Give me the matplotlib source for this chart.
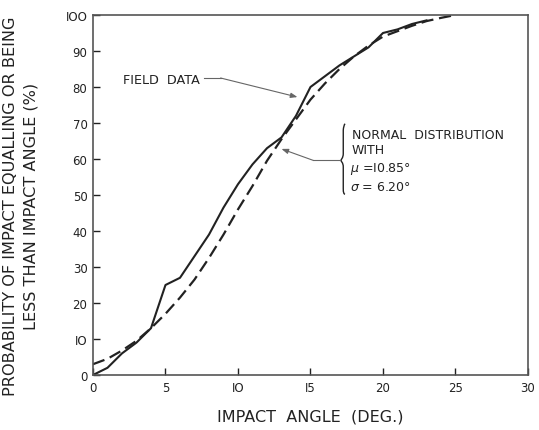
import matplotlib
matplotlib.use("Agg")
import matplotlib.pyplot as plt
from matplotlib.path import Path
from matplotlib.patches import PathPatch

# Field data (solid line)
field_x = [0, 1, 2, 3, 4, 5, 6, 7, 8, 9, 10, 11, 12, 13, 14, 15, 16, 17, 18, 19, 20, 21, 22, 23]
field_y = [0, 2, 6, 9, 13, 25, 27, 33, 39, 46.5, 53, 58.5, 63, 66, 72, 80, 83, 86, 88.5, 91, 95, 96, 97.5, 98.5]

# Normal distribution (dashed line)
norm_x = [0, 1, 2, 3, 4, 5, 6, 7, 8, 9, 10, 11, 12, 13, 14, 15, 16, 17, 18, 19, 20, 21, 22, 23, 24, 25]
norm_y = [3, 4.5, 6.8, 9.5, 13, 17, 21.5, 26.5, 32.5, 39, 46, 52.5, 59.5, 65.5, 71, 76.5, 81, 85, 88.5, 91.5, 94, 95.5, 97, 98.3, 99.2, 100]

x_ticks = [0, 5, 10, 15, 20, 25, 30]
x_tick_labels = ["0", "5", "IO", "I5", "20", "25", "30"]
y_ticks = [0, 10, 20, 30, 40, 50, 60, 70, 80, 90, 100]
y_tick_labels = ["0", "IO", "20", "30", "40", "50", "60", "70", "80", "90", "IOO"]

ink = "#222222"
plt.rcParams['font.family'] = ['DejaVu Sans']

fig = plt.figure(figsize=(5.39, 4.31), dpi=100)
ax = fig.add_axes([0.1725, 0.1276, 0.8071, 0.8353])

ax.plot(field_x, field_y, color=ink, lw=1.5, solid_joinstyle='round')
ax.plot(norm_x, norm_y, color=ink, lw=1.6, dashes=(5.5, 2.6))

ax.set_xlim(0, 30)
ax.set_ylim(0, 100)
ax.set_xticks(x_ticks)
ax.set_xticklabels(x_tick_labels)
ax.set_yticks(y_ticks)
ax.set_yticklabels(y_tick_labels)
ax.tick_params(direction='in', length=5, width=1, colors=ink, labelsize=8.5, pad=4)
for s in ax.spines.values():
    s.set_color("#555555")
    s.set_linewidth(1.2)

ax.set_xlabel("IMPACT  ANGLE  (DEG.)", fontsize=11.5, color=ink, labelpad=11)
ax.set_ylabel("PROBABILITY OF IMPACT EQUALLING OR BEING\nLESS THAN IMPACT ANGLE (%)",
              fontsize=11.6, color=ink, linespacing=1.45)
ax.yaxis.set_label_coords(-0.125, 0.472)

# Field data annotation
ax.text(2.05, 82.2, "FIELD  DATA", fontsize=9.2, color=ink, va='center', ha='left')
ax.plot([7.65, 8.8], [82.5, 82.5], color="#666666", lw=0.8)
ax.annotate("", xy=(14.1, 77.2), xytext=(8.8, 82.5),
            arrowprops=dict(arrowstyle="-|>,head_length=0.4,head_width=0.15",
                            color="#666666", lw=0.8, shrinkA=0, shrinkB=0))

# Normal distribution annotation with brace
verts = [(17.38, 69.8), (17.28, 69.3), (17.26, 68.0),
         (17.26, 61.5),
         (17.26, 60.3), (17.1, 59.8), (17.1, 59.6),
         (17.1, 59.4), (17.26, 59.0), (17.26, 57.8),
         (17.26, 51.8),
         (17.26, 50.6), (17.3, 50.3), (17.38, 50.2)]
codes = [Path.MOVETO, Path.CURVE3, Path.CURVE3,
         Path.LINETO,
         Path.CURVE4, Path.CURVE4, Path.CURVE4,
         Path.CURVE4, Path.CURVE4, Path.CURVE4,
         Path.LINETO,
         Path.CURVE4, Path.CURVE4, Path.CURVE4]
ax.add_patch(PathPatch(Path(verts, codes), fill=False, edgecolor=ink, lw=1.0))
ax.plot([17.05, 15.2], [59.6, 59.6], color="#666666", lw=0.8)
ax.annotate("", xy=(13.0, 62.8), xytext=(15.2, 59.6),
            arrowprops=dict(arrowstyle="-|>,head_length=0.4,head_width=0.15",
                            color="#666666", lw=0.8, shrinkA=0, shrinkB=0))
ax.text(17.85, 66.8, "NORMAL  DISTRIBUTION", fontsize=9, color=ink, va='center', ha='left')
ax.text(17.85, 62.5, "WITH", fontsize=9, color=ink, va='center', ha='left')
ax.text(17.75, 57.6, "$\\mu$ =I0.85°", fontsize=9, color=ink, va='center', ha='left')
ax.text(17.75, 52.4, "$\\sigma$ = 6.20°", fontsize=9, color=ink, va='center', ha='left')

fig.savefig("out.png", dpi=100)
